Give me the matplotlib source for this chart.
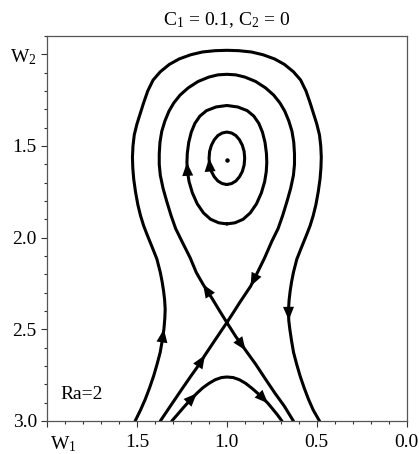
import matplotlib
matplotlib.use('Agg')
import matplotlib.pyplot as plt
from matplotlib.ticker import MultipleLocator

plt.rcParams['font.family'] = 'Liberation Serif'
plt.rcParams['mathtext.fontset'] = 'custom'
plt.rcParams['mathtext.rm'] = 'Liberation Serif'
plt.rcParams['mathtext.it'] = 'Liberation Serif:italic'

# center point
center_pt = (1.0, 1.575)

# inner closed orbit
orbit1_x = [1.000, 1.026, 1.050, 1.070, 1.086, 1.096, 1.099, 1.096, 1.086, 1.070, 1.050, 1.026, 1.000,
            0.974, 0.950, 0.930, 0.914, 0.904, 0.901, 0.904, 0.914, 0.930, 0.950, 0.974, 1.000]
orbit1_y = [1.710, 1.705, 1.691, 1.668, 1.639, 1.604, 1.567, 1.530, 1.496, 1.466, 1.443, 1.429, 1.424,
            1.429, 1.443, 1.466, 1.496, 1.530, 1.567, 1.604, 1.639, 1.668, 1.691, 1.705, 1.710]

# second closed orbit
orbit2_x = [1.000, 1.045, 1.090, 1.130, 1.165, 1.192, 1.210, 1.219, 1.222, 1.220, 1.212, 1.198,
            1.178, 1.150, 1.113, 1.060, 1.000, 0.940, 0.887, 0.850, 0.822, 0.802, 0.788, 0.780,
            0.778, 0.781, 0.790, 0.808, 0.835, 0.870, 0.910, 0.955, 1.000]
orbit2_y = [1.925, 1.919, 1.900, 1.865, 1.815, 1.755, 1.695, 1.640, 1.590, 1.540, 1.480, 1.425,
            1.377, 1.337, 1.307, 1.287, 1.279, 1.287, 1.307, 1.337, 1.377, 1.425, 1.480, 1.540,
            1.590, 1.640, 1.695, 1.755, 1.815, 1.865, 1.900, 1.919, 1.925]

# homoclinic loop through the saddle
loop_x = [1.000, 1.040, 1.080, 1.132, 1.170, 1.204, 1.250, 1.285, 1.310, 1.335, 1.355, 1.370,
          1.376, 1.376, 1.372, 1.362, 1.345, 1.322, 1.295, 1.260, 1.215, 1.160, 1.100, 1.050,
          1.000, 0.950, 0.900, 0.840, 0.785, 0.740, 0.705, 0.678, 0.655, 0.638, 0.628, 0.624,
          0.624, 0.630, 0.645, 0.665, 0.690, 0.715, 0.750, 0.790, 0.830, 0.868, 0.926, 0.965, 1.000]
loop_y = [2.463, 2.400, 2.335, 2.255, 2.190, 2.110, 2.020, 1.950, 1.880, 1.800, 1.730, 1.660,
          1.600, 1.543, 1.480, 1.420, 1.365, 1.310, 1.265, 1.222, 1.183, 1.148, 1.124, 1.112,
          1.109, 1.112, 1.124, 1.148, 1.183, 1.222, 1.265, 1.310, 1.365, 1.420, 1.480, 1.543,
          1.600, 1.660, 1.730, 1.800, 1.880, 1.950, 2.020, 2.110, 2.190, 2.265, 2.350, 2.410, 2.463]

# saddle branches below the crossing
out_x = [1.000, 0.950, 0.896, 0.840, 0.785, 0.735, 0.680, 0.630]
out_y = [2.463, 2.540, 2.614, 2.690, 2.772, 2.845, 2.920, 3.000]
in_x = [1.370, 1.315, 1.257, 1.200, 1.160, 1.122, 1.060, 1.000]
in_y = [3.000, 2.920, 2.836, 2.755, 2.700, 2.641, 2.550, 2.463]

# outer open orbit
outer_x = [1.510, 1.480, 1.454, 1.430, 1.407, 1.388, 1.371, 1.360, 1.350, 1.345, 1.343, 1.346,
           1.352, 1.360, 1.370, 1.389, 1.410, 1.426, 1.445, 1.463, 1.480, 1.495, 1.508, 1.518,
           1.523, 1.525, 1.522, 1.515, 1.500, 1.482, 1.463, 1.440, 1.410, 1.370, 1.320, 1.265,
           1.200, 1.135, 1.065, 1.000, 0.935, 0.865, 0.800, 0.735, 0.680, 0.630, 0.590, 0.560,
           0.537, 0.518, 0.500, 0.485, 0.478, 0.475, 0.477, 0.482, 0.492, 0.505, 0.520, 0.537,
           0.555, 0.574, 0.590, 0.611, 0.630, 0.640, 0.648, 0.654, 0.657, 0.656, 0.650, 0.640,
           0.629, 0.612, 0.593, 0.570, 0.546, 0.520, 0.485]
outer_y = [3.000, 2.940, 2.882, 2.820, 2.754, 2.690, 2.627, 2.565, 2.499, 2.440, 2.390, 2.340,
           2.290, 2.240, 2.190, 2.117, 2.065, 2.026, 1.980, 1.934, 1.880, 1.820, 1.750, 1.680,
           1.620, 1.561, 1.500, 1.440, 1.380, 1.324, 1.265, 1.200, 1.140, 1.095, 1.055, 1.025,
           1.002, 0.987, 0.980, 0.978, 0.980, 0.987, 1.002, 1.025, 1.055, 1.095, 1.140, 1.200,
           1.265, 1.324, 1.380, 1.440, 1.500, 1.561, 1.620, 1.680, 1.750, 1.820, 1.880, 1.934,
           1.980, 2.026, 2.065, 2.117, 2.190, 2.240, 2.290, 2.340, 2.390, 2.450, 2.499, 2.565,
           2.627, 2.690, 2.754, 2.820, 2.882, 2.940, 3.000]

# lower open orbit under the saddle
lower_x = [1.306, 1.275, 1.240, 1.200, 1.167, 1.135, 1.100, 1.065, 1.030, 1.000,
           0.965, 0.930, 0.895, 0.860, 0.825, 0.795, 0.772, 0.745, 0.720, 0.694]
lower_y = [3.000, 2.965, 2.925, 2.882, 2.849, 2.820, 2.795, 2.775, 2.763, 2.760,
           2.763, 2.775, 2.795, 2.822, 2.852, 2.880, 2.903, 2.935, 2.965, 3.000]

# arrow heads: (curve, index of the tip point)
arrows = [('orbit1', 6), ('orbit2', 8), ('loop', 3), ('loop', 45),
          ('out', 2), ('in', 5), ('outer', 8), ('outer', 69),
          ('lower', 4), ('lower', 16)]

curves = {'orbit1': (orbit1_x, orbit1_y), 'orbit2': (orbit2_x, orbit2_y),
          'loop': (loop_x, loop_y), 'out': (out_x, out_y), 'in': (in_x, in_y),
          'outer': (outer_x, outer_y), 'lower': (lower_x, lower_y)}

fig = plt.figure(figsize=(4.19, 4.54), dpi=100)
ax = fig.add_axes([0.1122, 0.0727, 0.8585, 0.848])

for name in curves:
    cx, cy = curves[name]
    ax.plot(cx, cy, color='black', lw=2.2, solid_capstyle='round', solid_joinstyle='round')

for name, k in arrows:
    cx, cy = curves[name]
    ax.annotate('', xy=(cx[k], cy[k]), xytext=(cx[k - 1], cy[k - 1]),
                arrowprops=dict(arrowstyle='-|>,head_length=0.8,head_width=0.33',
                                mutation_scale=12, lw=0, color='black',
                                shrinkA=0, shrinkB=0))

ax.plot(center_pt[0], center_pt[1], 'o', color='black', ms=2.2)

ax.set_xlim(2.0, 0.0)
ax.set_ylim(3.0, 0.9)

ax.set_xticks([2.0, 1.5, 1.0, 0.5, 0.0])
ax.set_xticklabels(['', '1.5', '1.0', '0.5', '0.0'])
ax.set_yticks([1.0, 1.5, 2.0, 2.5, 3.0])
ax.set_yticklabels(['W$_2$', '1.5', '2.0', '2.5', '3.0'])
ax.xaxis.set_minor_locator(MultipleLocator(0.1))
ax.yaxis.set_minor_locator(MultipleLocator(0.1))
ax.tick_params(which='both', direction='out', top=False, right=False, width=0.8,
               color='#333333', labelsize=14)
ax.tick_params(which='major', length=4.3)
ax.tick_params(which='minor', length=2.5)
ax.tick_params(axis='x', pad=5)
ax.tick_params(axis='y', pad=3)

for s in ax.spines.values():
    s.set_color('#555555')
    s.set_linewidth(0.9)

ax.annotate('W$_1$', xy=(1.91, 0), xycoords=('data', 'axes fraction'),
            xytext=(0, -9.3), textcoords='offset points', ha='center', va='top', fontsize=14)

ax.text(1.926, 2.858, 'Ra=2', ha='left', va='center', fontsize=14)
ax.set_title('C$_1$ = 0.1, C$_2$ = 0', fontsize=14, pad=8)

fig.savefig('out.png', dpi=100)
